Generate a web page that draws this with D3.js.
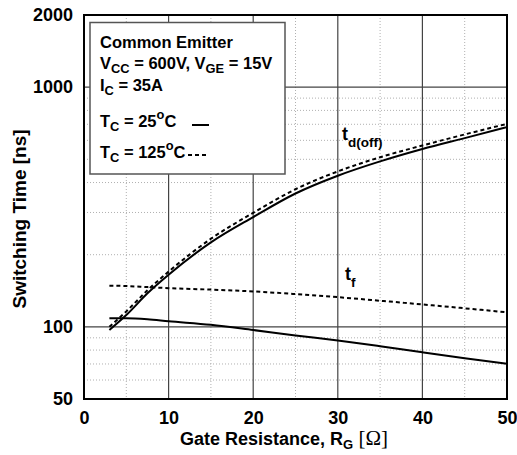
<!DOCTYPE html>
<html>
<head>
<meta charset="utf-8">
<script src="https://cdn.jsdelivr.net/npm/d3@7"></script>
<style>
  html, body { margin: 0; padding: 0; background: #fff; }
  svg { display: block; font-family: "Liberation Sans", Arial, sans-serif; }
</style>
</head>
<body>
<svg id="chart" width="517" height="455"></svg>
<script>
// Gate resistance, ohms
const rg = [3, 5, 7.5, 10, 15, 20, 25, 30, 35, 40, 45, 50];
// Turn-off delay time, ns
const tdOff25 = [97, 112, 138, 165, 225, 287, 360, 427, 490, 552, 613, 681];
const tdOff125 = [100, 116, 142, 170, 233, 299, 375, 445, 510, 571, 635, 703];
// Fall time, ns
const tf25 = [108.5, 108.5, 107.5, 105.5, 102, 97, 92, 87.7, 83, 78.3, 74, 70.2];
const tf125 = [148.5, 148, 146.5, 145, 143, 140.5, 137, 133, 128.5, 124, 119.5, 115];

const xTicks = [0, 10, 20, 30, 40, 50];
const xMinor = [5, 15, 25, 35, 45];
const yTicks = [50, 100, 1000, 2000];
const yMajorGrid = [100, 1000];
const yMinor = [60, 70, 80, 90, 200, 300, 400, 500, 600, 700, 800, 900];

const svg = d3.select("#chart");
const L = 84, R = 507, T = 15, B = 399;

const x = d3.scaleLinear().domain([0, 50]).range([L, R]);
const y = d3.scaleLog().domain([50, 2000]).range([B, T]);

// minor grid
svg.append("g").selectAll("line").data(xMinor).join("line")
  .attr("x1", d => x(d)).attr("x2", d => x(d)).attr("y1", T).attr("y2", B)
  .attr("stroke", "#b0b0b0").attr("stroke-width", 1).attr("stroke-dasharray", "1,2");
svg.append("g").selectAll("line").data(yMinor).join("line")
  .attr("x1", L).attr("x2", R).attr("y1", d => y(d)).attr("y2", d => y(d))
  .attr("stroke", "#b0b0b0").attr("stroke-width", 1).attr("stroke-dasharray", "1,2");

// major grid
svg.append("g").selectAll("line").data(xTicks.slice(1, -1)).join("line")
  .attr("x1", d => x(d)).attr("x2", d => x(d)).attr("y1", T).attr("y2", B)
  .attr("stroke", "#444").attr("stroke-width", 1.2);
svg.append("g").selectAll("line").data(yMajorGrid).join("line")
  .attr("x1", L).attr("x2", R).attr("y1", d => y(d)).attr("y2", d => y(d))
  .attr("stroke", "#444").attr("stroke-width", 1.2);

// curves
const line = d3.line().x((d, i) => x(rg[i])).y(d => y(d)).curve(d3.curveMonotoneX);
const series = [
  { v: tdOff25, dash: null },
  { v: tdOff125, dash: "4,3" },
  { v: tf25, dash: null },
  { v: tf125, dash: "4,3" }
];
svg.append("g").selectAll("path").data(series).join("path")
  .attr("d", d => line(d.v))
  .attr("fill", "none").attr("stroke", "#000").attr("stroke-width", 2)
  .attr("stroke-dasharray", d => d.dash);

// frame
svg.append("rect").attr("x", L).attr("y", T).attr("width", R - L).attr("height", B - T)
  .attr("fill", "none").attr("stroke", "#000").attr("stroke-width", 2);

// tick labels via d3 axes
const xAxis = d3.axisBottom(x).tickValues(xTicks).tickSize(0).tickPadding(12).tickFormat(d3.format("d"));
const gx = svg.append("g").attr("transform", `translate(0,${B})`).call(xAxis);
gx.select(".domain").remove();
gx.selectAll("text").attr("font-size", 18).attr("font-weight", "bold").attr("fill", "#000")
  .attr("font-family", "Liberation Sans, Arial, sans-serif");

const yAxis = d3.axisLeft(y).tickValues(yTicks).tickSize(0).tickPadding(11).tickFormat(d3.format("d"));
const gy = svg.append("g").attr("transform", `translate(${L},0)`).call(yAxis);
gy.select(".domain").remove();
gy.selectAll("text").attr("font-size", 18).attr("font-weight", "bold").attr("fill", "#000")
  .attr("font-family", "Liberation Sans, Arial, sans-serif");

// axis titles
const xt = svg.append("text").attr("x", 284).attr("y", 445).attr("text-anchor", "middle")
  .attr("font-size", 18).attr("font-weight", "bold");
xt.append("tspan").text("Gate Resistance, R");
xt.append("tspan").attr("font-size", 13).attr("dy", 4).text("G");
xt.append("tspan").attr("dy", -4).attr("font-weight", "normal").attr("font-family", "Liberation Serif, serif")
  .attr("font-size", 21).text(" [Ω]");

svg.append("text").attr("transform", `translate(26,219) rotate(-90)`)
  .attr("text-anchor", "middle").attr("font-size", 19).attr("font-weight", "bold")
  .text("Switching Time [ns]");

// condition box
svg.append("rect").attr("x", 90).attr("y", 22.5).attr("width", 195).attr("height", 151.5)
  .attr("fill", "#fff").attr("stroke", "#555").attr("stroke-width", 1.5);

function subText(xp, yp, parts, size, subShift, ratio) {
  const t = svg.append("text").attr("x", xp).attr("y", yp).attr("font-size", size).attr("font-weight", "bold");
  let shift = 0;
  parts.forEach(p => {
    const s = t.append("tspan").text(p.t);
    const target = p.sub ? subShift : p.sup ? -Math.round(size * 0.5) : 0;
    s.attr("dy", target - shift);
    shift = target;
    if (p.sub || p.sup) s.attr("font-size", size * ratio);
  });
  return t;
}
subText(100, 48, [{ t: "Common Emitter" }], 16.5, 4, 0.78);
subText(100, 69, [{ t: "V" }, { t: "CC", sub: true }, { t: " = 600V, V" }, { t: "GE", sub: true }, { t: " = 15V" }], 16.5, 4, 0.78);
subText(100, 91, [{ t: "I" }, { t: "C", sub: true }, { t: " = 35A" }], 16.5, 4, 0.78);
subText(100, 127, [{ t: "T" }, { t: "C", sub: true }, { t: " = 25" }, { t: "o", sup: true }, { t: "C" }], 16.5, 4, 0.78);
subText(100, 158, [{ t: "T" }, { t: "C", sub: true }, { t: " = 125" }, { t: "o", sup: true }, { t: "C" }], 16.5, 4, 0.78);

// legend line samples
svg.append("line").attr("x1", 192).attr("x2", 209).attr("y1", 125).attr("y2", 125)
  .attr("stroke", "#000").attr("stroke-width", 2);
svg.append("line").attr("x1", 188).attr("x2", 209).attr("y1", 155).attr("y2", 155)
  .attr("stroke", "#000").attr("stroke-width", 2).attr("stroke-dasharray", "4,3");

// curve labels
subText(342, 140, [{ t: "t" }, { t: "d(off)", sub: true }], 18, 7, 0.75);
subText(345, 280, [{ t: "t" }, { t: "f", sub: true }], 18, 7, 0.75);
</script>
</body>
</html>
